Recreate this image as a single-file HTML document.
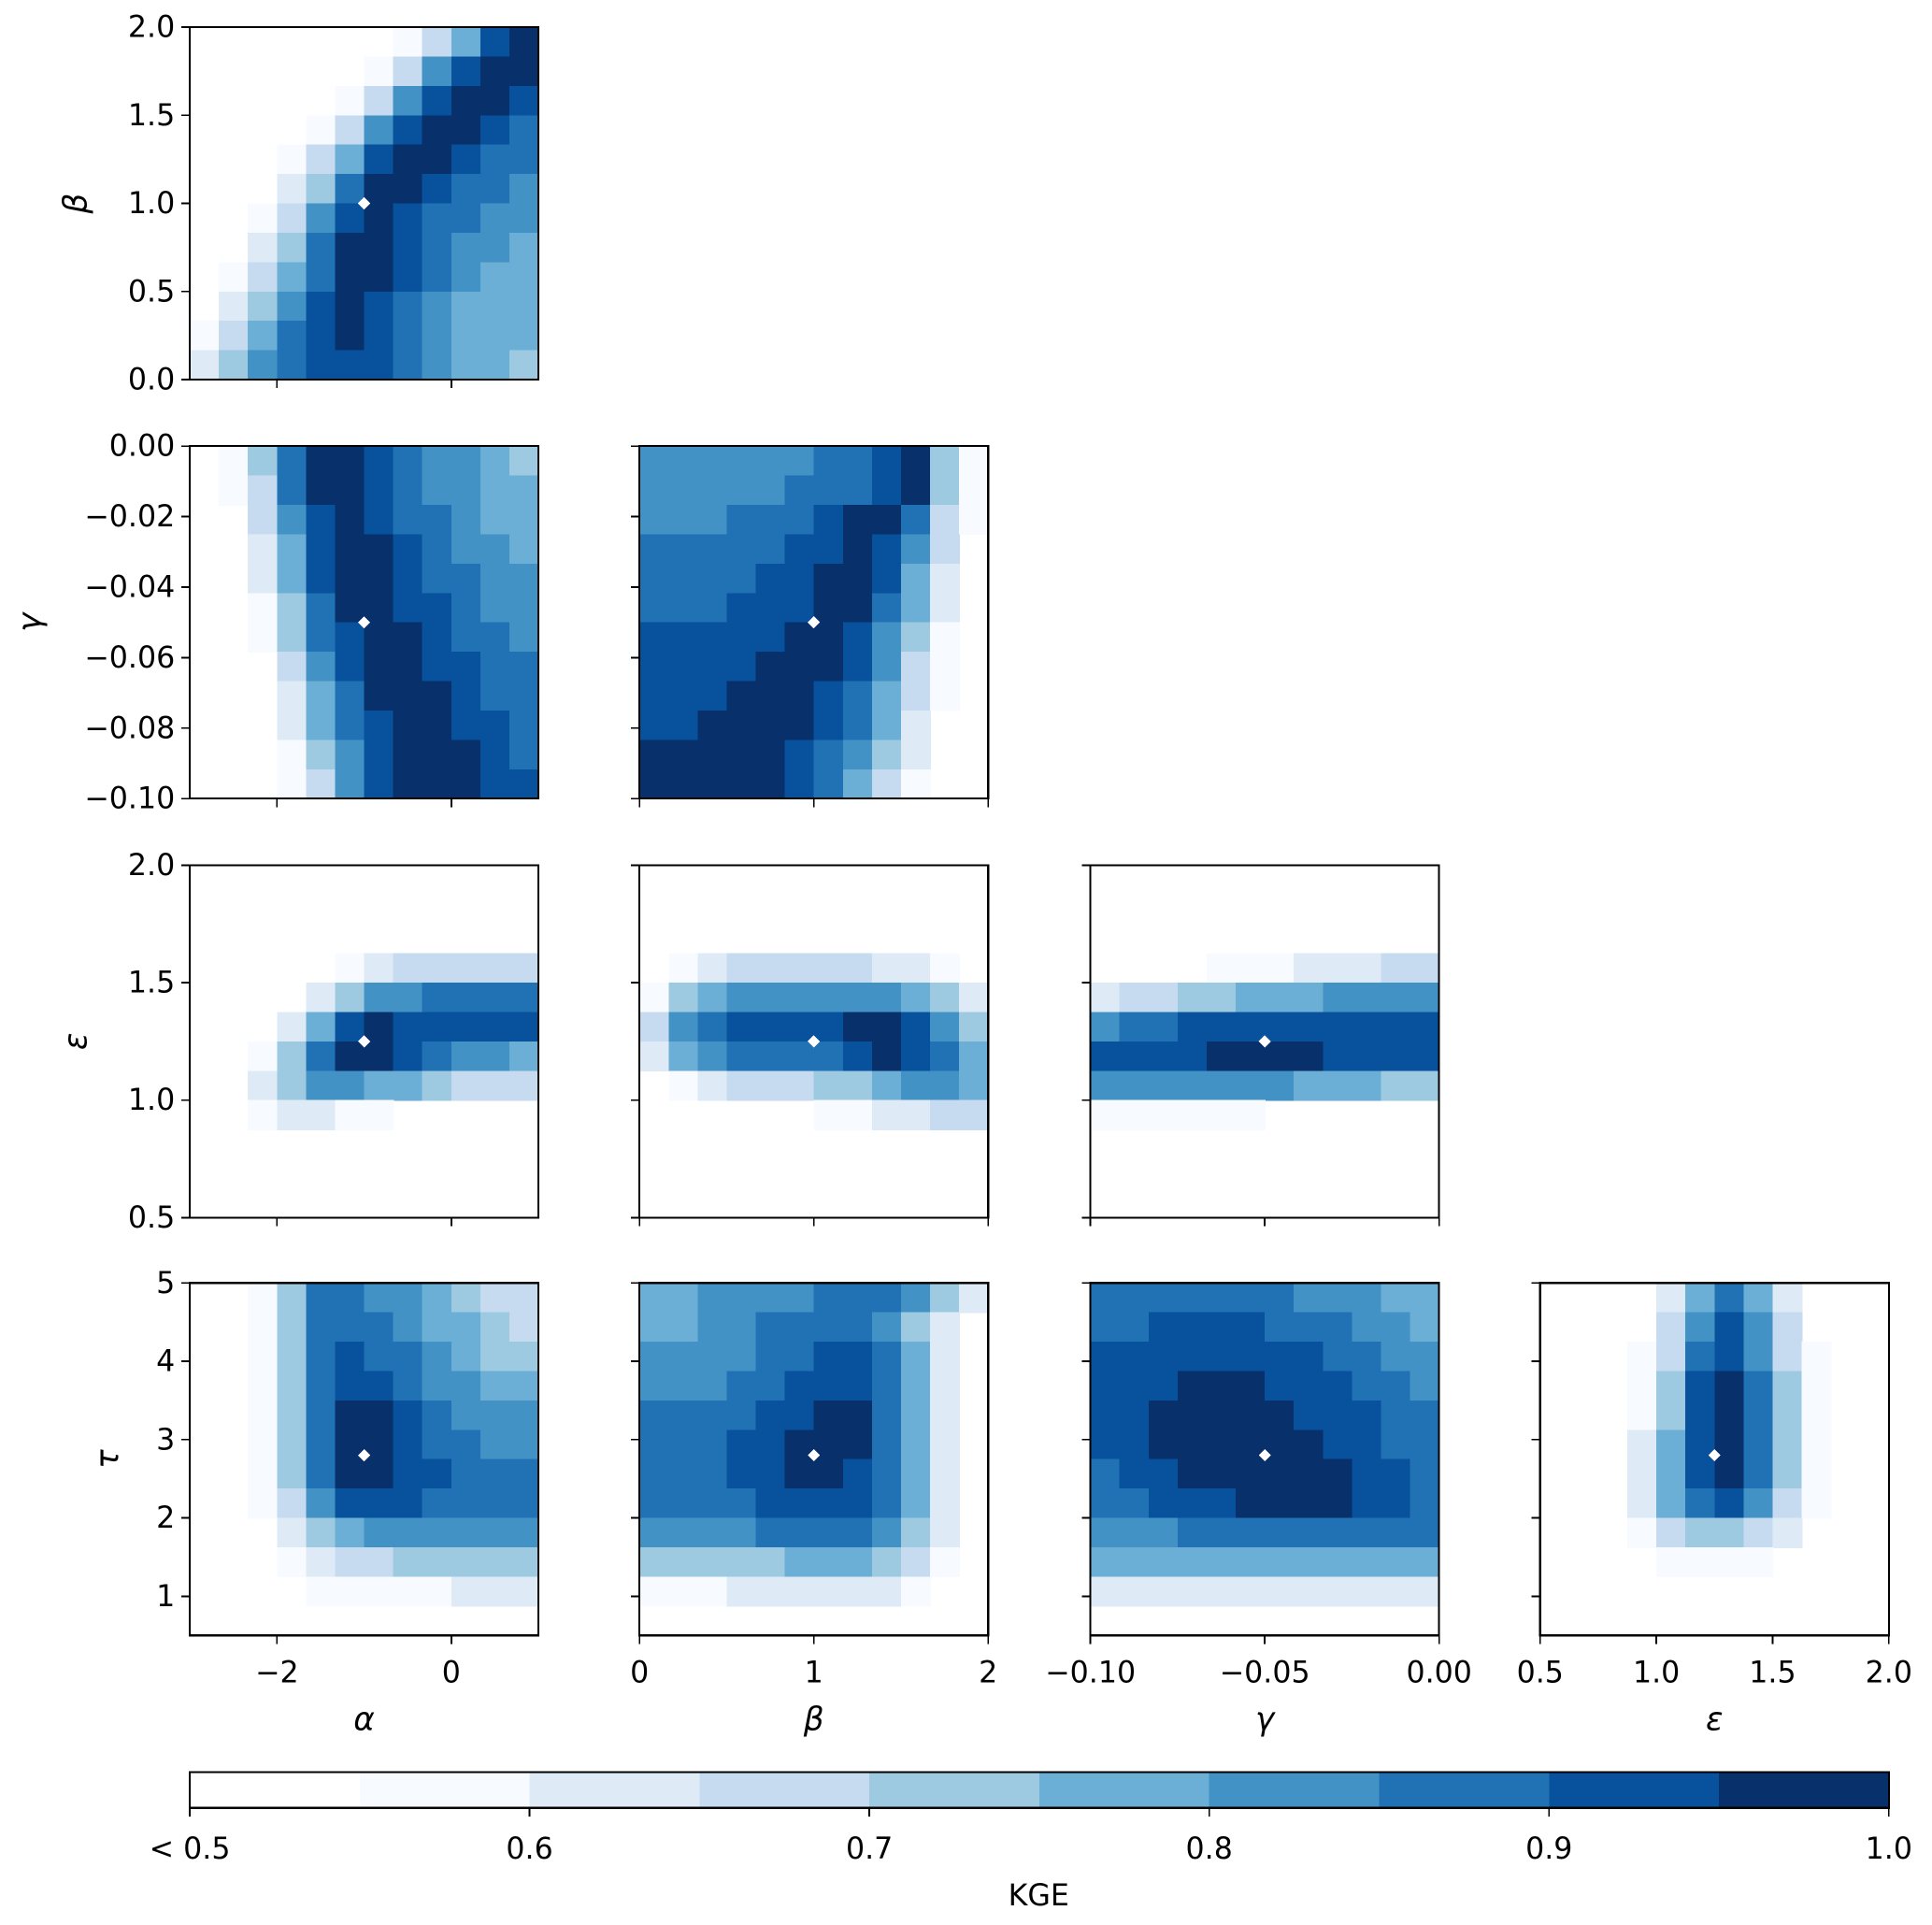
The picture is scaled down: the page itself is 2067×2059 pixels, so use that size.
<!DOCTYPE html>
<html><head><meta charset="utf-8"><style>
html,body{margin:0;padding:0;background:#fff}
svg{display:block}
text{font-family:"DejaVu Sans","Liberation Sans",sans-serif;fill:#000}
</style></head><body>
<svg id="fig" width="2067" height="2059" viewBox="0 0 1568 1562" xmlns="http://www.w3.org/2000/svg" shape-rendering="crispEdges"></svg>
<script>
// ---- data ----
const levelColors = ["#ffffff","#f7fbff","#deebf7","#c6dbef","#9ecae1","#6baed6","#4292c6","#2171b5","#08519c","#08306b"];
const colorbarTicks = [0.5,0.6,0.7,0.8,0.9,1.0];
const colorbarTickLabels = ["< 0.5","0.6","0.7","0.8","0.9","1.0"];
const paramNames = ["α","β","γ","ε","τ"];
const paramRanges = [[-3,1],[0,2],[-0.1,0],[0.5,2],[0.5,5]];
const paramTicks = [[-2,0],[0,0.5,1,1.5,2],[-0.1,-0.08,-0.06,-0.04,-0.02,0],[0.5,1,1.5,2],[1,2,3,4,5]];
const xTickValues = [[-2,0],[0,1,2],[-0.1,-0.05,0],[0.5,1,1.5,2]];
const xTickLabels = [["−2","0"],["0","1","2"],["−0.10","−0.05","0.00"],["0.5","1.0","1.5","2.0"]];
const yTickLabels = [null,["0.0","0.5","1.0","1.5","2.0"],["−0.10","−0.08","−0.06","−0.04","−0.02","0.00"],["0.5","1.0","1.5","2.0"],["1","2","3","4","5"]];
const optimum = [-1,1,-0.05,1.25,2.8];

const grid_alpha_beta = ["000000013589","000000136899","000001368998","000013689987","000135899877","000247998776","001368987766","002479987665","013579987655","024689876555","135789876555","246788876554"];
const grid_alpha_gamma = ["014799876654","013799876655","003689877655","002589987665","002589987766","001479988766","001478998776","000368998877","000257999877","000257899887","000146899987","000136899988"];
const grid_beta_gamma = ["666666778941","666667778941","666777899731","777778898630","777788998520","777888997520","888889986410","888899986310","888999875310","889999875200","999998764200","999998753100"];
const grid_alpha_eps = ["000000000000","000000000000","000000000000","000001233333","000024667777","000258988888","001479987665","002466554333","001221100000","000000000000","000000000000","000000000000"];
const grid_beta_eps = ["000000000000","000000000000","000000000000","012333332210","145666666542","367888899864","256777789875","012333445665","000000112233","000000000000","000000000000","000000000000"];
const grid_gamma_eps = ["000000000000","000000000000","000000000000","000011122233","233445556666","677888888888","888899998888","666666655544","111111000000","000000000000","000000000000","000000000000"];
const grid_alpha_tau = ["001477665433","001477765543","001478776544","001478876655","001479987666","001479987766","001479988777","001368887777","000245666666","000123344444","000011111222","000000000000"];
const grid_beta_tau = ["556666777642","556677776420","666677887520","666778887520","777788997520","777889997520","777889987520","777788887520","666677776420","444445554310","111222222100","000000000000"];
const grid_gamma_tau = ["777777766655","778888777665","888888887766","888999888776","889999988877","889999998877","788999999887","778889999887","666777777777","555555555555","222222222222","000000000000"];
const grid_eps_tau = ["000025752000","000036863000","000137863100","000148974100","000148974100","000258974100","000258974100","000257863100","000134432000","000011110000","000000000000","000000000000"];

const panels = [
  {r:0,c:0,xp:0,yp:1,g:grid_alpha_beta},
  {r:1,c:0,xp:0,yp:2,g:grid_alpha_gamma},
  {r:1,c:1,xp:1,yp:2,g:grid_beta_gamma},
  {r:2,c:0,xp:0,yp:3,g:grid_alpha_eps},
  {r:2,c:1,xp:1,yp:3,g:grid_beta_eps},
  {r:2,c:2,xp:2,yp:3,g:grid_gamma_eps},
  {r:3,c:0,xp:0,yp:4,g:grid_alpha_tau},
  {r:3,c:1,xp:1,yp:4,g:grid_beta_tau},
  {r:3,c:2,xp:2,yp:4,g:grid_gamma_tau},
  {r:3,c:3,xp:3,yp:4,g:grid_eps_tau}
];
// ---- layout ----
const colX = [154,519,885,1250], PW = 283;
const rowY = [22,362,702,1041], PH = 286;
const NS = "http://www.w3.org/2000/svg";
const svg = document.getElementById("fig");
function mk(tag, attrs, parent){ const e=document.createElementNS(NS,tag); for(const k in attrs) e.setAttribute(k,attrs[k]); (parent||svg).appendChild(e); return e; }

panels.forEach(p=>{
  const x0=colX[p.c], y0=rowY[p.r];
  const xr=paramRanges[p.xp], yr=paramRanges[p.yp];
  const sx=v=>x0+(v-xr[0])/(xr[1]-xr[0])*PW;
  const sy=v=>y0+PH-(v-yr[0])/(yr[1]-yr[0])*PH;
  const g=mk("g",{});
  
  
  const nr=p.g.length, nc=p.g[0].length, cw=PW/nc, ch=PH/nr;
  for(let i=0;i<nr;i++) for(let j=0;j<nc;j++){
    const lv=+p.g[i][j]; if(lv===0) continue;
    const cell=mk("rect",{x:x0+j*cw,y:y0+i*ch,width:cw+0.6,height:ch+0.6,fill:levelColors[lv]},g);
    
    
  }
  const fr=mk("rect",{x:x0,y:y0,width:PW,height:PH,fill:"none",stroke:"#000","stroke-width":1.6},g);
  
  
  const mx=sx(optimum[p.xp]), my=sy(optimum[p.yp]);
  const m=mk("path",{d:`M${mx} ${my-5}L${mx+5} ${my}L${mx} ${my+5}L${mx-5} ${my}Z`,fill:"#fff"},g);
  
  
  xTickValues[p.xp].forEach((v,k)=>{
    const tx=sx(v);
    mk("line",{x1:tx,x2:tx,y1:y0+PH,y2:y0+PH+7,stroke:"#000","stroke-width":1.4},g);
    if(p.r===3){
      const t=mk("text",{x:tx,y:y0+PH+38,"font-size":24,"text-anchor":"middle"},g);
      t.textContent=xTickLabels[p.xp][k];
      
      
    }
  });
  paramTicks[p.yp].forEach((v,k)=>{
    const ty=sy(v);
    mk("line",{x1:x0-7,x2:x0,y1:ty,y2:ty,stroke:"#000","stroke-width":1.4},g);
    if(p.c===0){
      const t=mk("text",{x:x0-12,y:ty+8,"font-size":24,"text-anchor":"end"},g);
      t.textContent=yTickLabels[p.yp][k];
      
      
    }
  });
});
const yTitleX = [null,62,25,62,88];
for(let r=0;r<4;r++){
  const yp=r+1, cy=rowY[r]+PH/2;
  const t=mk("text",{x:yTitleX[yp],y:cy,"font-size":26,"font-style":"italic","text-anchor":"middle",transform:`rotate(-90 ${yTitleX[yp]} ${cy})`,dy:8});
  t.textContent=paramNames[yp];
  
  
}
for(let c=0;c<4;c++){
  const t=mk("text",{x:colX[c]+PW/2,y:1404,"font-size":26,"font-style":"italic","text-anchor":"middle"});
  t.textContent=paramNames[c];
  
  
}
const cbX=154, cbW=1379, cbY=1438, cbH=29;
const cb=mk("g",{});


const segW=cbW/levelColors.length;
levelColors.forEach((col,i)=>{
  const s=mk("rect",{x:cbX+i*segW,y:cbY,width:segW+0.5,height:cbH,fill:col},cb);
  
  
});
mk("rect",{x:cbX,y:cbY,width:cbW,height:cbH,fill:"none",stroke:"#000","stroke-width":1.6},cb);
const cbx=v=>cbX+(v-0.5)/0.5*cbW;
colorbarTicks.forEach((v,k)=>{
  const tx=cbx(v);
  mk("line",{x1:tx,x2:tx,y1:cbY+cbH,y2:cbY+cbH+7,stroke:"#000","stroke-width":1.4},cb);
  const t=mk("text",{x:tx,y:1508,"font-size":24,"text-anchor":"middle"},cb);
  t.textContent=colorbarTickLabels[k];
  
  
});
const kl=mk("text",{x:843,y:1546,"font-size":24,"text-anchor":"middle"});
kl.textContent="KGE";


</script>
</body></html>
